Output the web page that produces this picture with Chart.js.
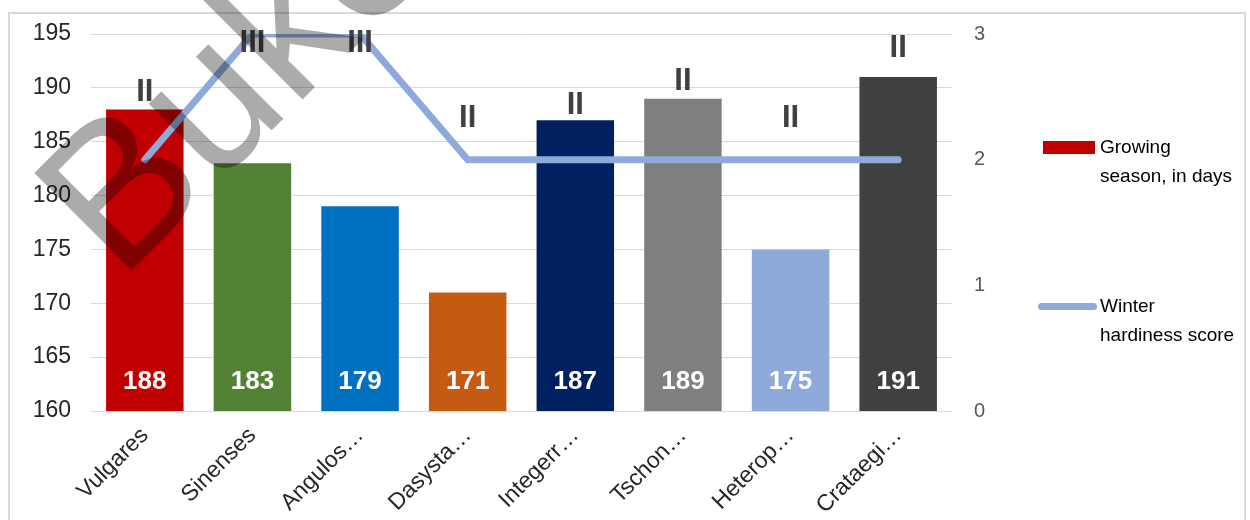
<!DOCTYPE html>
<html>
<head>
<meta charset="utf-8">
<script src="https://cdn.jsdelivr.net/npm/chart.js@4.4.1/dist/chart.umd.min.js"></script>
<style>
  html, body { margin: 0; padding: 0; background: #fff; }
  #wrap { position: relative; width: 1250px; height: 520px; overflow: hidden; font-family: "Liberation Sans", Arial, sans-serif; }
  #frame { position: absolute; left: 8px; top: 12px; width: 1238px; height: 520px; border: 2px solid #d9d9d9; box-sizing: border-box; }
  #chart { position: absolute; left: 0; top: 0; }
  .leg { position: absolute; left: 1100px; font-size: 19px; line-height: 29px; color: #000; }
  .swatch { position: absolute; }
</style>
</head>
<body>
<div id="wrap">
  <div id="frame"></div>
  <canvas id="chart" width="1250" height="520"></canvas>
  <div class="swatch" style="left:1043px; top:141px; width:52px; height:13px; background:#c00000;"></div>
  <div class="leg" style="top:132px;">Growing<br>season, in days</div>
  <div class="swatch" style="left:1038px; top:303px; width:59px; height:7px; border-radius:4px; background:#8eaadb;"></div>
  <div class="leg" style="top:291px;">Winter<br>hardiness score</div>
</div>
<script>
// Data
const categories = ['Vulgares', 'Sinenses', 'Angulos…', 'Dasysta…', 'Integerr…', 'Tschon…', 'Heterop…', 'Crataegi…'];
const growingDays = [188, 183, 179, 171, 187, 189, 175, 191];
const hardiness = [2, 3, 3, 2, 2, 2, 2, 2];
const hardinessLabelLevel = [189.6, 194.1, 194.1, 187.2, 188.4, 190.6, 187.2, 193.7]; // where the roman labels sit (left axis units)
const barColors = ['#c00000', '#548235', '#0070c0', '#c55a11', '#002060', '#7f7f7f', '#8eaadb', '#404040'];
const leftTicks = [160, 165, 170, 175, 180, 185, 190, 195];
const rightTicks = [0, 1, 2, 3];
const roman = { 1: 'I', 2: 'II', 3: 'III' };

// bar value labels, white, at the bottom of the bars
const barLabels = {
  id: 'barLabels',
  afterDatasetsDraw(chart) {
    const ctx = chart.ctx;
    const meta = chart.getDatasetMeta(1);
    const yBase = chart.scales.y.getPixelForValue(160);
    ctx.save();
    ctx.font = 'bold 26px "Liberation Sans", Arial, sans-serif';
    ctx.fillStyle = '#ffffff';
    ctx.textAlign = 'center';
    ctx.textBaseline = 'middle';
    meta.data.forEach((bar, i) => {
      ctx.fillText(String(growingDays[i]), bar.x, yBase - 29);
    });
    ctx.restore();
  }
};

// roman numeral scores above the marks
const romanLabels = {
  id: 'romanLabels',
  afterDatasetsDraw(chart) {
    const ctx = chart.ctx;
    const meta = chart.getDatasetMeta(1);
    ctx.save();
    ctx.font = 'bold 31px "Liberation Sans", Arial, sans-serif';
    ctx.fillStyle = '#404040';
    ctx.textAlign = 'center';
    ctx.textBaseline = 'middle';
    meta.data.forEach((bar, i) => {
      const y = chart.scales.y.getPixelForValue(hardinessLabelLevel[i]);
      ctx.fillText(roman[hardiness[i]], bar.x, y);
    });
    ctx.restore();
  }
};

// watermark across the top left
const watermark = {
  id: 'watermark',
  afterDraw(chart) {
    const ctx = chart.ctx;
    ctx.save();
    ctx.translate(120, 282);
    ctx.rotate(-Math.PI / 4);
    ctx.font = '200px "Liberation Sans", Arial, sans-serif';
    ctx.fillStyle = 'rgba(0,0,0,0.33)';
    ctx.textBaseline = 'alphabetic';
    ctx.fillText('Buke', 0, 0);
    ctx.restore();
  }
};

new Chart(document.getElementById('chart'), {
  type: 'bar',
  data: {
    labels: categories,
    datasets: [
      {
        type: 'line',
        label: 'Winter hardiness score',
        data: hardiness,
        yAxisID: 'y1',
        borderColor: '#8eaadb',
        borderWidth: 7,
        borderCapStyle: 'round',
        borderJoinStyle: 'miter',
        pointRadius: 0,
        tension: 0,
        order: 0
      },
      {
        label: 'Growing season, in days',
        data: growingDays,
        yAxisID: 'y',
        backgroundColor: barColors,
        barPercentage: 0.72,
        categoryPercentage: 1,
        order: 1
      }
    ]
  },
  plugins: [barLabels, romanLabels, watermark],
  options: {
    responsive: false,
    animation: false,
    layout: { padding: { left: 18, right: 250, top: 18, bottom: 5 } },
    plugins: { legend: { display: false }, tooltip: { enabled: false } },
    scales: {
      x: {
        grid: { display: false },
        border: { display: false },
        ticks: {
          minRotation: 45, maxRotation: 45, autoSkip: false,
          color: '#262626',
          font: { size: 23, family: '"Liberation Sans", Arial, sans-serif' }
        },
        afterFit(s) { s.height = 104; }
      },
      y: {
        position: 'left',
        min: 160, max: 195,
        afterBuildTicks(s) { s.ticks = leftTicks.map(v => ({ value: v })); },
        grid: { color: '#d9d9d9', lineWidth: 1, drawTicks: false },
        border: { display: false },
        ticks: {
          color: '#262626', padding: 20,
          font: { size: 23, family: '"Liberation Sans", Arial, sans-serif' }
        },
        afterFit(s) { s.width = 73; }
      },
      y1: {
        position: 'right',
        min: 0, max: 3,
        afterBuildTicks(s) { s.ticks = rightTicks.map(v => ({ value: v })); },
        grid: { display: false, drawTicks: false },
        border: { display: false },
        ticks: {
          color: '#595959', padding: 22,
          font: { size: 20, family: '"Liberation Sans", Arial, sans-serif' }
        },
        afterFit(s) { s.width = 48; }
      }
    }
  }
});
</script>
</body>
</html>
